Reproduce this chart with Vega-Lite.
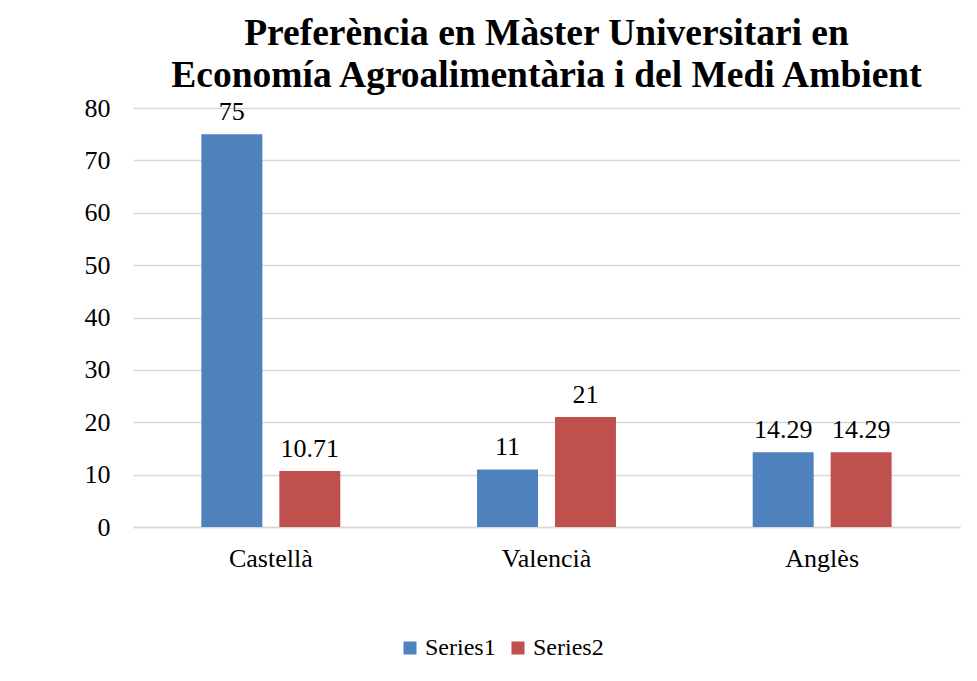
{
  "$schema": "https://vega.github.io/schema/vega-lite/v6.json",
  "autosize": "none",
  "width": 827,
  "height": 419,
  "padding": {"left": 133, "top": 108, "right": 17, "bottom": 154},
  "background": "white",
  "title": {
    "text": ["Preferència en Màster Universitari en", "Economía Agroalimentària i del Medi Ambient"],
    "font": "Liberation Serif",
    "fontSize": 37.5,
    "fontWeight": "bold",
    "color": "#000000",
    "anchor": "middle",
    "lineHeight": 42,
    "offset": 1
  },
  "data": {
    "values": [
      {"idioma": "Castellà", "serie": "Series1", "valor": 75, "etiqueta": "75"},
      {"idioma": "Castellà", "serie": "Series2", "valor": 10.71, "etiqueta": "10.71"},
      {"idioma": "Valencià", "serie": "Series1", "valor": 11, "etiqueta": "11"},
      {"idioma": "Valencià", "serie": "Series2", "valor": 21, "etiqueta": "21"},
      {"idioma": "Anglès", "serie": "Series1", "valor": 14.29, "etiqueta": "14.29"},
      {"idioma": "Anglès", "serie": "Series2", "valor": 14.29, "etiqueta": "14.29"}
    ]
  },
  "encoding": {
    "x": {
      "field": "idioma",
      "type": "nominal",
      "sort": ["Castellà", "Valencià", "Anglès"],
      "scale": {"paddingInner": 0.496, "paddingOuter": 0.248},
      "axis": {
        "title": null,
        "labelAngle": 0,
        "labelFont": "Liberation Serif",
        "labelFontSize": 26,
        "labelColor": "#000000",
        "labelPadding": 18,
        "ticks": false,
        "domainColor": "#d9d9d9",
        "domainWidth": 1.5
      }
    },
    "xOffset": {
      "field": "serie",
      "type": "nominal",
      "scale": {"paddingInner": 0.218, "paddingOuter": 0}
    },
    "y": {
      "field": "valor",
      "type": "quantitative",
      "scale": {"domain": [0, 80]},
      "axis": {
        "title": null,
        "values": [0, 10, 20, 30, 40, 50, 60, 70, 80],
        "labelFont": "Liberation Serif",
        "labelFontSize": 26,
        "labelColor": "#000000",
        "labelPadding": 23,
        "ticks": false,
        "domain": false,
        "gridColor": "#d9d9d9",
        "gridWidth": 1.5
      }
    }
  },
  "layer": [
    {
      "mark": {"type": "bar"},
      "encoding": {
        "color": {
          "field": "serie",
          "type": "nominal",
          "scale": {"domain": ["Series1", "Series2"], "range": ["#4F81BD", "#C0504D"]},
          "legend": {
            "title": null,
            "orient": "none",
            "direction": "horizontal",
            "legendX": 265,
            "legendY": 528,
            "symbolType": "square",
            "symbolSize": 170,
            "symbolStrokeWidth": 0,
            "labelFont": "Liberation Serif",
            "labelFontSize": 24,
            "labelColor": "#000000",
            "labelOffset": 3,
            "columnPadding": 10
          }
        }
      }
    },
    {
      "mark": {"type": "text", "baseline": "alphabetic", "dy": -14, "font": "Liberation Serif", "fontSize": 26, "color": "#000000"},
      "encoding": {
        "text": {"field": "etiqueta", "type": "nominal"}
      }
    }
  ],
  "config": {
    "view": {"stroke": null}
  }
}
